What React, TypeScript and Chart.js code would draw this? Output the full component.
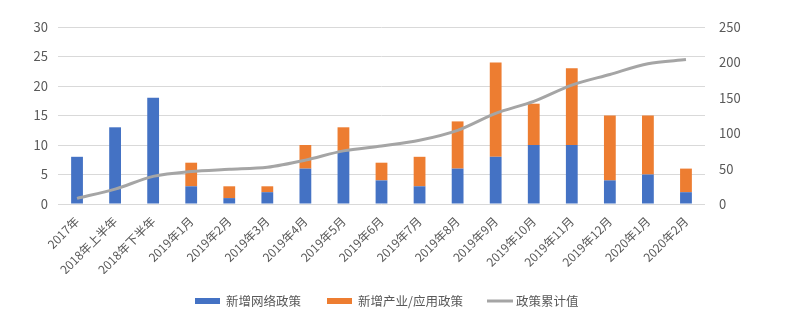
import React, { useEffect, useRef } from "react";
import { Chart, registerables } from "chart.js";

Chart.register(...registerables);

const categories = [
  "2017年", "2018年上半年", "2018年下半年", "2019年1月", "2019年2月", "2019年3月",
  "2019年4月", "2019年5月", "2019年6月", "2019年7月", "2019年8月", "2019年9月",
  "2019年10月", "2019年11月", "2019年12月", "2020年1月", "2020年2月",
];
const networkPolicy = [8, 13, 18, 3, 1, 2, 6, 9, 4, 3, 6, 8, 10, 10, 4, 5, 2];
const industryPolicy = [0, 0, 0, 4, 2, 1, 4, 4, 3, 5, 8, 16, 7, 13, 11, 10, 4];
const cumulative = [8, 21, 39, 46, 49, 52, 62, 75, 82, 90, 104, 128, 145, 168, 183, 198, 204];
const seriesNames = ["新增网络政策", "新增产业/应用政策", "政策累计值"];

const BLUE = "#4472C4";
const ORANGE = "#ED7D31";
const GREY = "#A5A5A5";
const TEXT = "#595959";
const FONT = "'Noto Sans CJK SC', 'Noto Sans', sans-serif";

const legendPlugin = {
  id: "customLegend",
  afterDraw(chart: any) {
    const ctx = chart.ctx;
    const y = 301;
    ctx.save();
    ctx.font = `12.5px ${FONT}`;
    ctx.textBaseline = "middle";
    ctx.fillStyle = BLUE;
    ctx.fillRect(195, y - 3, 25, 6);
    ctx.fillStyle = TEXT;
    ctx.fillText(seriesNames[0], 226, y);
    ctx.fillStyle = ORANGE;
    ctx.fillRect(327, y - 3, 25, 6);
    ctx.fillStyle = TEXT;
    ctx.fillText(seriesNames[1], 358, y);
    ctx.strokeStyle = GREY;
    ctx.lineWidth = 3;
    ctx.beginPath();
    ctx.moveTo(487, y);
    ctx.lineTo(513, y);
    ctx.stroke();
    ctx.fillStyle = TEXT;
    ctx.fillText(seriesNames[2], 516, y);
    ctx.restore();
  },
};

export default function App() {
  const ref = useRef<HTMLCanvasElement>(null);
  useEffect(() => {
    document.body.style.margin = "0";
    const chart = new Chart(ref.current!, {
      type: "bar",
      data: {
        labels: categories,
        datasets: [
          {
            type: "line",
            label: seriesNames[2],
            data: cumulative,
            borderColor: GREY,
            backgroundColor: GREY,
            borderWidth: 3,
            pointRadius: 0,
            tension: 0.3,
            yAxisID: "y2",
            order: 0,
          } as any,
          {
            label: seriesNames[0],
            data: networkPolicy,
            backgroundColor: BLUE,
            yAxisID: "y",
            stack: "s",
            order: 1,
            barPercentage: 0.31,
            categoryPercentage: 1,
          },
          {
            label: seriesNames[1],
            data: industryPolicy,
            backgroundColor: ORANGE,
            yAxisID: "y",
            stack: "s",
            order: 1,
            barPercentage: 0.31,
            categoryPercentage: 1,
          },
        ],
      },
      options: {
        animation: false,
        responsive: false,
        layout: { padding: { top: 27, bottom: 52, left: 0, right: 0 } },
        plugins: { legend: { display: false }, tooltip: { enabled: false } },
        scales: {
          x: {
            stacked: true,
            grid: { display: false },
            border: { display: false },
            ticks: {
              color: TEXT,
              font: { family: FONT, size: 12 },
              maxRotation: 45,
              minRotation: 45,
              autoSkip: false,
              padding: 2,
            },
            afterFit(scale: any) {
              scale.height = 70;
            },
          },
          y: {
            stacked: true,
            position: "left",
            min: 0,
            max: 30,
            ticks: { stepSize: 5, color: TEXT, font: { family: FONT, size: 13 }, padding: 10 },
            grid: { color: "#D9D9D9", lineWidth: 1, drawTicks: false },
            border: { display: false },
            afterFit(scale: any) {
              scale.width = 58;
            },
          },
          y2: {
            position: "right",
            min: 0,
            max: 250,
            ticks: { stepSize: 50, color: TEXT, font: { family: FONT, size: 13 }, padding: 14 },
            grid: { display: false, drawTicks: false },
            border: { display: false },
            afterFit(scale: any) {
              scale.width = 95;
            },
          },
        },
      },
      plugins: [legendPlugin],
    });
    return () => chart.destroy();
  }, []);
  return (
    <div style={{ width: 800, height: 326 }}>
      <canvas ref={ref} width={800} height={326} style={{ display: "block" }} />
    </div>
  );
}
